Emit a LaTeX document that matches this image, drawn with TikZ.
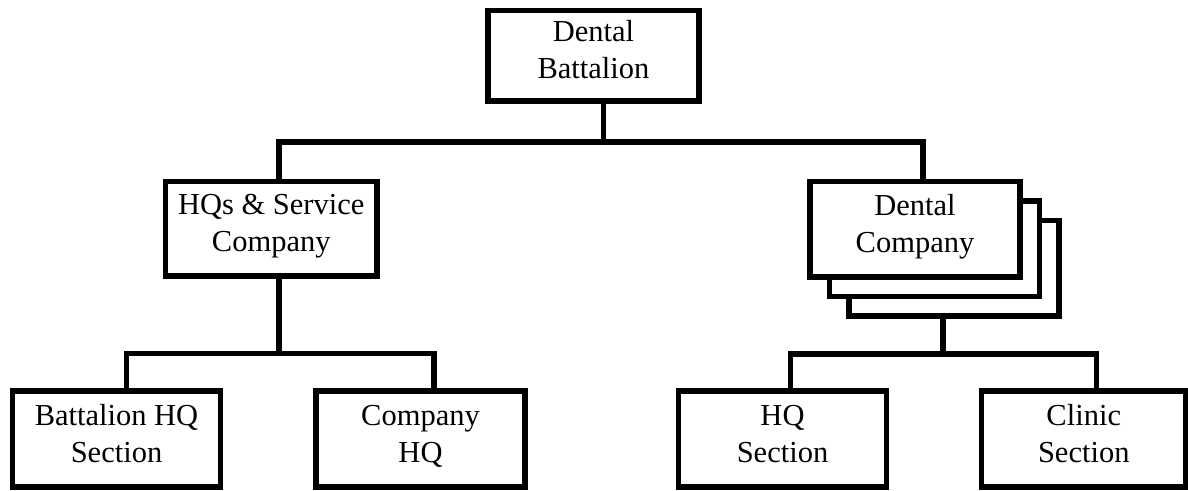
\documentclass[tikz,border=0pt]{standalone}
\usepackage{fontspec}
\setmainfont{Liberation Serif}
% two centred lines, baseline on the first one
\newcommand\twolines[2]{\begin{tabular}[t]{@{}c@{}}#1\\#2\end{tabular}}
\begin{document}
\begin{tikzpicture}[x=1pt,y=-1pt,
  unit/.style={draw, line width=5.3pt, fill=white, inner sep=0pt,
    minimum width=210pt, minimum height=95pt,
    text height=20pt, text depth=48pt,
    font=\fontsize{30.5}{37}\selectfont},
  link/.style={line width=5.3pt}]
\useasboundingbox (0,0) rectangle (1188,490);

% battalion headquarters
\node[unit, minimum width=211pt, minimum height=90.5pt] (top) at (593.5,55.75)
  {\twolines{Dental}{Battalion}};

% second level
\node[unit, minimum width=211.5pt, minimum height=94.5pt] (hqs) at (271.25,228.75)
  {\twolines{HQs \& Service}{Company}};
\node[unit, minimum height=95.5pt] (dco3) at (954,268.25) {};
\node[unit, minimum height=95.5pt] (dco2) at (934.5,248.75) {};
\node[unit, minimum height=95.5pt] (dco) at (915,229.25)
  {\twolines{Dental}{Company}};

% sections
\node[unit, minimum width=208pt, minimum height=96pt] (bhq) at (116.5,439)
  {\twolines{Battalion HQ}{Section}};
\node[unit, minimum width=209pt, minimum height=96pt] (chq) at (420.5,439)
  {\twolines{Company}{HQ}};
\node[unit, minimum width=208pt, minimum height=96pt] (hqsec) at (782.5,439)
  {\twolines{HQ}{Section}};
\node[unit, minimum width=204.5pt, minimum height=96pt] (clin) at (1083.75,439)
  {\twolines{Clinic}{Section}};

% connector end points and bus levels
\coordinate (bus0) at (0,142);
\coordinate (busL) at (0,353.5);
\coordinate (busR) at (0,354);
\coordinate (top-out) at ([xshift=10pt]top.south);
\coordinate (hqs-in) at ([xshift=7.75pt]hqs.north);
\coordinate (dco-in) at ([xshift=8pt]dco.north);
\coordinate (hqs-out) at ([xshift=7.75pt]hqs.south);
\coordinate (dco-out) at ([xshift=-11pt]dco3.south);
\coordinate (bhq-in) at ([xshift=10pt]bhq.north);
\coordinate (chq-in) at ([xshift=13.5pt]chq.north);
\coordinate (hqsec-in) at ([xshift=8pt]hqsec.north);
\coordinate (clin-in) at ([xshift=12.75pt]clin.north);

% connectors
\draw[link] (top-out) -- (top-out |- bus0);
\draw[link] (hqs-in) |- (bus0 -| dco-in) -- (dco-in);
\draw[link] (hqs-out) -- (hqs-out |- busL);
\draw[link] (bhq-in) |- (busL -| chq-in) -- (chq-in);
\draw[link] (dco-out) -- (dco-out |- busR);
\draw[link] (hqsec-in) |- (busR -| clin-in) -- (clin-in);
\end{tikzpicture}
\end{document}
